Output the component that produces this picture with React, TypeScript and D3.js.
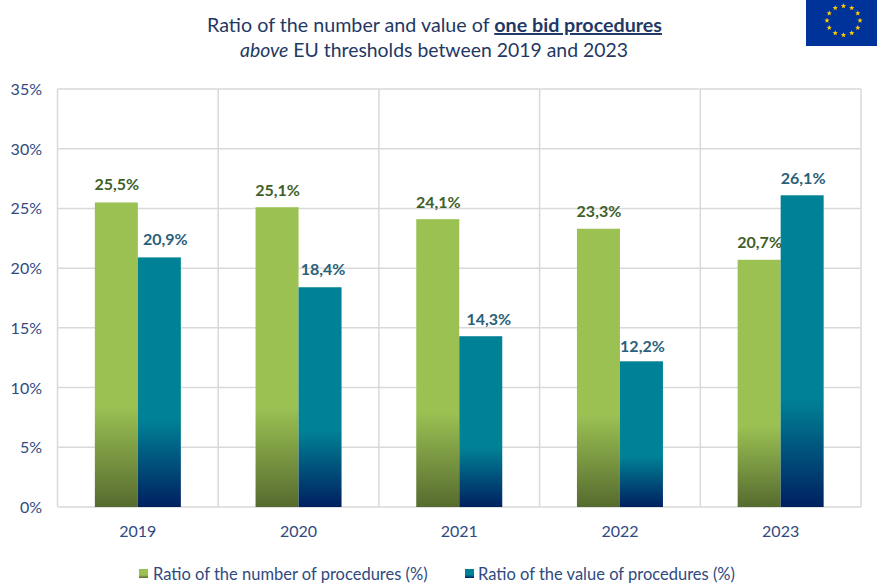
import React from "react";
import * as d3 from "d3";

const years = ["2019", "2020", "2021", "2022", "2023"];
const numberRatio = [25.5, 25.1, 24.1, 23.3, 20.7];
const valueRatio = [20.9, 18.4, 14.3, 12.2, 26.1];
const yTicks = [0, 5, 10, 15, 20, 25, 30, 35];
const legendLabels = ["Ratio of the number of procedures (%)", "Ratio of the value of procedures (%)"];
const FONT = "Lato, 'Open Sans', sans-serif";
const W = 877, H = 583;
const fmt = (v: number) => v.toFixed(1).replace(".", ",") + "%";
// manual data-label offsets as placed in the original chart
const numberLabelDy = [0, 1, 1, 0, 0];
const valueLabelDx = [6, 3, 8, 1, 1];
const valueLabelDy = [0, 0, 1, 3, 1];

function star(cx: number, cy: number, r: number) {
  const pts: string[] = [];
  for (let i = 0; i < 10; i++) {
    const a = -Math.PI / 2 + (i * Math.PI) / 5;
    const rr = i % 2 ? r * 0.42 : r;
    pts.push(`${cx + rr * Math.cos(a)},${cy + rr * Math.sin(a)}`);
  }
  return pts.join(" ");
}

export default function App() {
  const x = d3.scaleBand<string>().domain(years).range([57.5, 861]);
  const y = d3.scaleLinear().domain([0, 35]).range([507, 89]);
  const barW = 43;
  return (
    <svg width={W} height={H} viewBox={`0 0 ${W} ${H}`} style={{ position: "absolute", left: 0, top: 0, background: "#fff" }} fontFamily={FONT}>
      <defs>
        <linearGradient id="g" x1="0" y1="1" x2="0" y2="0">
          <stop offset="0" stopColor="#566b2f" />
          <stop offset="0.33" stopColor="#9bc153" />
          <stop offset="1" stopColor="#9bc153" />
        </linearGradient>
        <linearGradient id="t" x1="0" y1="1" x2="0" y2="0">
          <stop offset="0" stopColor="#002060" />
          <stop offset="0.35" stopColor="#008296" />
          <stop offset="1" stopColor="#008296" />
        </linearGradient>
      </defs>

      <text x={434.5} y={32} textAnchor="middle" fontSize={19.7} fill="#1f3864">
        Ratio of the number and value of <tspan fontWeight={700} textDecoration="underline">one bid procedures</tspan>
      </text>
      <text x={434} y={57} textAnchor="middle" fontSize={19.4} fill="#1f3864">
        <tspan fontStyle="italic">above</tspan> EU thresholds between 2019 and 2023
      </text>

      <rect x={806} y={0} width={71} height={46} fill="#003399" />
      {d3.range(12).map((i) => {
        const a = (i * Math.PI) / 6;
        return <polygon key={i} points={star(843.5 + 16.5 * Math.sin(a), 20.5 - 14.5 * Math.cos(a), 2.8)} fill="#ffcc00" />;
      })}

      {yTicks.map((t) => (
        <g key={t}>
          <line x1={57.5} x2={861} y1={y(t)} y2={y(t)} stroke="#d9d9d9" strokeWidth={1.5} />
          <text x={42} y={y(t) + 6} textAnchor="end" fontSize={16} fill="#2f4a80">{t}%</text>
        </g>
      ))}
      {[...years.map((c) => x(c)!), 861].map((v, i) => (
        <line key={i} x1={v} x2={v} y1={89} y2={507} stroke="#d9d9d9" strokeWidth={1.5} />
      ))}

      {years.map((c, i) => {
        const mid = x(c)! + x.bandwidth() / 2;
        return (
          <g key={c}>
            <rect x={mid - barW} y={y(numberRatio[i])} width={barW} height={507 - y(numberRatio[i])} fill="url(#g)" />
            <rect x={mid} y={y(valueRatio[i])} width={barW} height={507 - y(valueRatio[i])} fill="url(#t)" />
            <text x={mid - barW / 2 + 0.5} y={y(numberRatio[i]) - 12 + numberLabelDy[i]} textAnchor="middle" fontSize={16} fontWeight={700} fill="#3f5f2a">{fmt(numberRatio[i])}</text>
            <text x={mid + barW / 2 + valueLabelDx[i]} y={y(valueRatio[i]) - 12 + valueLabelDy[i]} textAnchor="middle" fontSize={16} fontWeight={700} fill="#2a6179">{fmt(valueRatio[i])}</text>
            <text x={mid} y={537} textAnchor="middle" fontSize={16} fill="#2f4a80">{c}</text>
          </g>
        );
      })}

      <rect x={139} y={569} width={9} height={9} fill="url(#g)" />
      <text x={153} y={580} fontSize={16.5} fill="#2f4a80">{legendLabels[0]}</text>
      <rect x={465} y={569} width={9} height={9} fill="url(#t)" />
      <text x={478} y={580} fontSize={16.5} fill="#2f4a80">{legendLabels[1]}</text>
    </svg>
  );
}
